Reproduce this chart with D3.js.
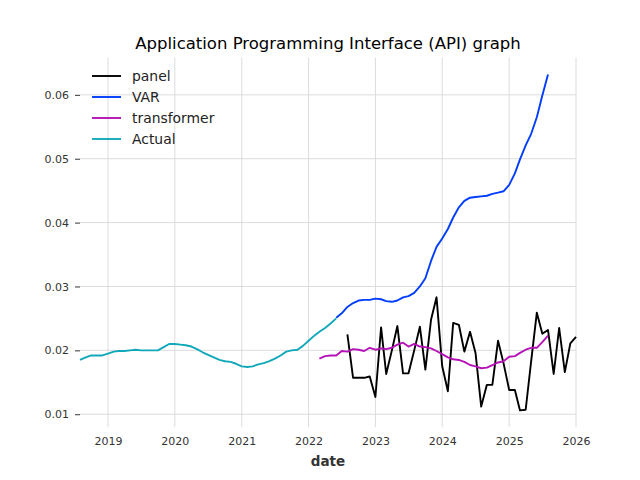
<!DOCTYPE html>
<html>
<head>
<meta charset="utf-8">
<script src="https://cdn.jsdelivr.net/npm/d3@7"></script>
<style>
  body { margin: 0; background: #fff; }
  svg { font-family: "DejaVu Sans", sans-serif; }
</style>
</head>
<body>
<div id="chart"></div>
<script>
// series, one value per month starting at the given month
var seriesNames = ["panel", "VAR", "transformer", "Actual"];
var seriesColors = ["#000000", "#003DFD", "#b512b8", "#11a9ba"];

var panelStart = "2022-08";
var panelValues = [0.0225, 0.0157, 0.0157, 0.0157, 0.0159, 0.0127, 0.0236, 0.0163, 0.0200, 0.0238,
    0.0164, 0.0164, 0.0200, 0.0237, 0.0170, 0.0248, 0.0283, 0.0175, 0.0136, 0.0243,
    0.0240, 0.0198, 0.0229, 0.0196, 0.0112, 0.0146, 0.0146, 0.0215, 0.0180, 0.0138,
    0.0138, 0.0106, 0.0107, 0.0183, 0.0259, 0.0226, 0.0232, 0.0163, 0.0235, 0.0166,
    0.0211, 0.0221];

var varStart = "2022-06";
var varValues = [0.0251, 0.0258, 0.0268, 0.0274, 0.0278, 0.0279, 0.0279, 0.0281, 0.0280, 0.0277,
    0.0276, 0.0278, 0.0283, 0.0285, 0.0290, 0.0300, 0.0313, 0.0340, 0.0362, 0.0375,
    0.0390, 0.0408, 0.0424, 0.0434, 0.0439, 0.0440, 0.0441, 0.0442, 0.0445, 0.0447,
    0.0449, 0.0459, 0.0477, 0.0499, 0.0521, 0.0539, 0.0565, 0.0599, 0.0632];

var transformerStart = "2022-03";
var transformerValues = [0.0187, 0.0191, 0.0192, 0.0192, 0.0199, 0.0198, 0.0202, 0.0201, 0.0199, 0.0204,
    0.0201, 0.0203, 0.0202, 0.0204, 0.0209, 0.0212, 0.0206, 0.0210, 0.0206, 0.0205,
    0.0203, 0.0199, 0.0194, 0.0189, 0.0186, 0.0185, 0.0182, 0.0177, 0.0175, 0.0172,
    0.0173, 0.0177, 0.0181, 0.0183, 0.0190, 0.0191, 0.0196, 0.0201, 0.0204, 0.0204,
    0.0213, 0.0223];

var actualStart = "2018-08";
var actualValues = [0.0185, 0.0189, 0.0192, 0.0192, 0.0192, 0.0195, 0.0198, 0.0199, 0.0199, 0.0200,
    0.0201, 0.0200, 0.0200, 0.0200, 0.0200, 0.0205, 0.0210, 0.0210, 0.0209, 0.0208,
    0.0206, 0.0202, 0.0197, 0.0193, 0.0189, 0.0185, 0.0183, 0.0182, 0.0179, 0.0175,
    0.0174, 0.0175, 0.0178, 0.0180, 0.0183, 0.0187, 0.0192, 0.0198, 0.0200, 0.0201,
    0.0207, 0.0215, 0.0223, 0.0229, 0.0235, 0.0242, 0.0250];

var yTicks = [0.01, 0.02, 0.03, 0.04, 0.05, 0.06];
var xTickYears = [2019, 2020, 2021, 2022, 2023, 2024, 2025, 2026];

var parseMonth = d3.timeParse("%Y-%m");

function toPoints(start, values) {
    var t0 = parseMonth(start);
    return values.map(function(v, i) {
        return {date: d3.timeMonth.offset(t0, i), value: v};
    });
}

var series = [
    {name: "panel", color: seriesColors[0], data: toPoints(panelStart, panelValues)},
    {name: "VAR", color: seriesColors[1], data: toPoints(varStart, varValues)},
    {name: "transformer", color: seriesColors[2], data: toPoints(transformerStart, transformerValues)},
    {name: "Actual", color: seriesColors[3], data: toPoints(actualStart, actualValues)}
];

var width = 640, height = 480;
var margin = {top: 57.6, right: 64, bottom: 52.8, left: 80};

var svg = d3.select("#chart").append("svg")
    .attr("width", width)
    .attr("height", height);

var allPoints = [].concat.apply([], series.map(function(s) { return s.data; }));

// x spans the data exactly, y gets matplotlib-like 5% padding
var x = d3.scaleTime()
    .domain([parseMonth(actualStart), parseMonth("2026-01")])
    .range([margin.left, width - margin.right]);

var yExt = d3.extent(allPoints, function(d) { return d.value; });
var pad = (yExt[1] - yExt[0]) * 0.05;
var y = d3.scaleLinear()
    .domain([yExt[0] - pad, yExt[1] + pad])
    .range([height - margin.bottom, margin.top]);

// grid
var grid = svg.append("g").attr("class", "grid");
grid.selectAll(".vgrid")
    .data(xTickYears)
    .enter().append("line")
    .attr("x1", function(d) { return x(new Date(d, 0, 1)); })
    .attr("x2", function(d) { return x(new Date(d, 0, 1)); })
    .attr("y1", margin.top)
    .attr("y2", height - margin.bottom)
    .style("stroke", "#dcdcdc")
    .style("stroke-width", 1);

grid.selectAll(".hgrid")
    .data(yTicks)
    .enter().append("line")
    .attr("x1", margin.left)
    .attr("x2", width - margin.right)
    .attr("y1", function(d) { return y(d); })
    .attr("y2", function(d) { return y(d); })
    .style("stroke", "#dcdcdc")
    .style("stroke-width", 1);

// axes
var xAxis = d3.axisBottom(x)
    .tickValues(xTickYears.map(function(d) { return new Date(d, 0, 1); }))
    .tickFormat(d3.timeFormat("%Y"))
    .tickSize(0)
    .tickPadding(10);

var yAxis = d3.axisLeft(y)
    .tickValues(yTicks)
    .tickFormat(d3.format(".2f"))
    .tickSize(5)
    .tickPadding(6);

var gx = svg.append("g")
    .attr("transform", "translate(0," + (height - margin.bottom) + ")")
    .call(xAxis);
var gy = svg.append("g")
    .attr("transform", "translate(" + margin.left + ",0)")
    .call(yAxis);

[gx, gy].forEach(function(g) {
    g.select(".domain").remove();
    g.selectAll("text")
        .style("font-family", "DejaVu Sans")
        .style("font-size", "11px")
        .style("fill", "#333");
    g.selectAll(".tick line").style("stroke", "#333").style("stroke-width", 1);
});

// lines
var line = d3.line()
    .x(function(d) { return x(d.date); })
    .y(function(d) { return y(d.value); });

svg.append("g").selectAll("path")
    .data(series)
    .enter().append("path")
    .attr("d", function(d) { return line(d.data); })
    .style("fill", "none")
    .style("stroke", function(d) { return d.color; })
    .style("stroke-width", 1.9)
    .style("stroke-linejoin", "round");

// title and axis label
svg.append("text")
    .attr("x", (margin.left + width - margin.right) / 2)
    .attr("y", 49)
    .attr("text-anchor", "middle")
    .style("font-size", "16.5px")
    .style("fill", "#000")
    .text("Application Programming Interface (API) graph");

svg.append("text")
    .attr("x", (margin.left + width - margin.right) / 2)
    .attr("y", 466)
    .attr("text-anchor", "middle")
    .style("font-size", "13.5px")
    .style("font-weight", "bold")
    .style("fill", "#333")
    .text("date");

// legend, no frame
var legend = svg.append("g").attr("class", "legend");
var rows = legend.selectAll("g")
    .data(series)
    .enter().append("g")
    .attr("transform", function(d, i) { return "translate(92," + (76 + i * 21) + ")"; });

rows.append("line")
    .attr("x1", 0).attr("x2", 29)
    .attr("y1", 0).attr("y2", 0)
    .style("stroke", function(d) { return d.color; })
    .style("stroke-width", 1.9);

rows.append("text")
    .attr("x", 40)
    .attr("y", 5)
    .style("font-size", "13.9px")
    .style("fill", "#222")
    .text(function(d) { return d.name; });
</script>
</body>
</html>
